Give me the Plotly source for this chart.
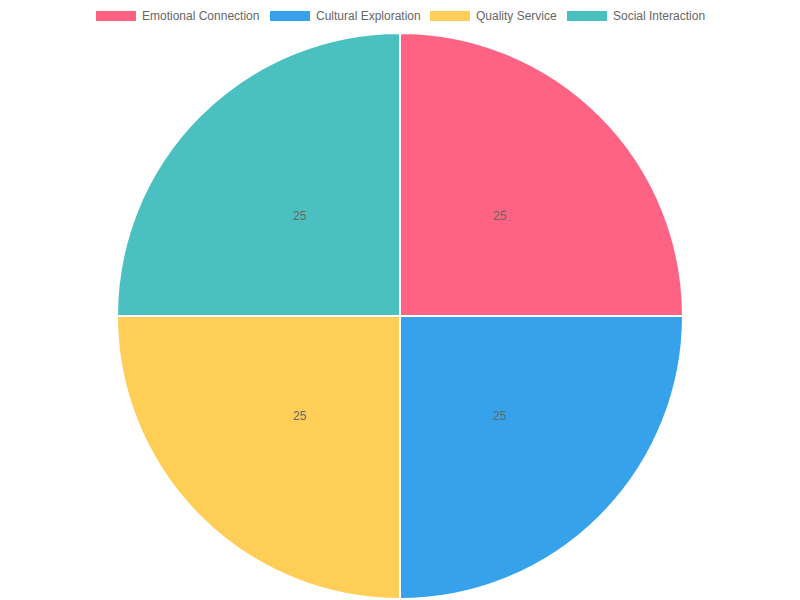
import math
import plotly.graph_objects as go

labels = ['Emotional Connection', 'Cultural Exploration', 'Quality Service', 'Social Interaction']
values = [25, 25, 25, 25]
colors = ['#FF6384', '#36A2EB', '#FFCE56', '#4BC0C0']

# the page puts the figure 8px in from the top-left corner
OFF = 8
W, H = 800 - OFF, 600 - OFF
cx, cy, radius = 400, 316, 283          # page pixels
legend_box_x = [96, 270, 430, 567]      # page pixels, left edge of each legend box
legend_y = 16
FONT = dict(family='Liberation Sans, Arial', size=12, color='#666')


def px(x):
    return (x - OFF) / W


def py(y):
    return 1 - (y - OFF) / H


fig = go.Figure()
fig.add_trace(go.Pie(
    labels=labels, values=values, sort=False, direction='clockwise', rotation=0,
    marker=dict(colors=colors, line=dict(color='white', width=2)),
    textinfo='none', hoverinfo='label+value',
    domain=dict(x=[px(cx - radius), px(cx + radius)], y=[py(cy + radius), py(cy - radius)]),
))

# value labels at half radius, in the middle of each slice
total = sum(values)
start = 0
for v in values:
    mid = (start + v / 2) / total * 2 * math.pi
    tx = cx + radius * 0.5 * math.sin(mid)
    ty = cy - radius * 0.5 * math.cos(mid)
    fig.add_annotation(x=px(tx), y=py(ty), xref='paper', yref='paper',
                       xanchor='center', yanchor='middle',
                       text=str(v), showarrow=False, font=FONT)
    start += v

# chart.js style legend: wide boxes with the label to the right
for lab, col, bx in zip(labels, colors, legend_box_x):
    fig.add_shape(type='rect', xref='paper', yref='paper',
                  x0=px(bx), x1=px(bx + 40), y0=py(legend_y + 5), y1=py(legend_y - 5),
                  fillcolor=col, line=dict(width=0))
    fig.add_annotation(x=px(bx + 44), y=py(legend_y), xref='paper', yref='paper',
                       text=lab, showarrow=False, xanchor='left', yanchor='middle',
                       font=FONT)

fig.update_layout(
    width=W, height=H, margin=dict(l=0, r=0, t=0, b=0),
    paper_bgcolor='white', plot_bgcolor='white',
    showlegend=False,
)

fig.write_html('out.html')
